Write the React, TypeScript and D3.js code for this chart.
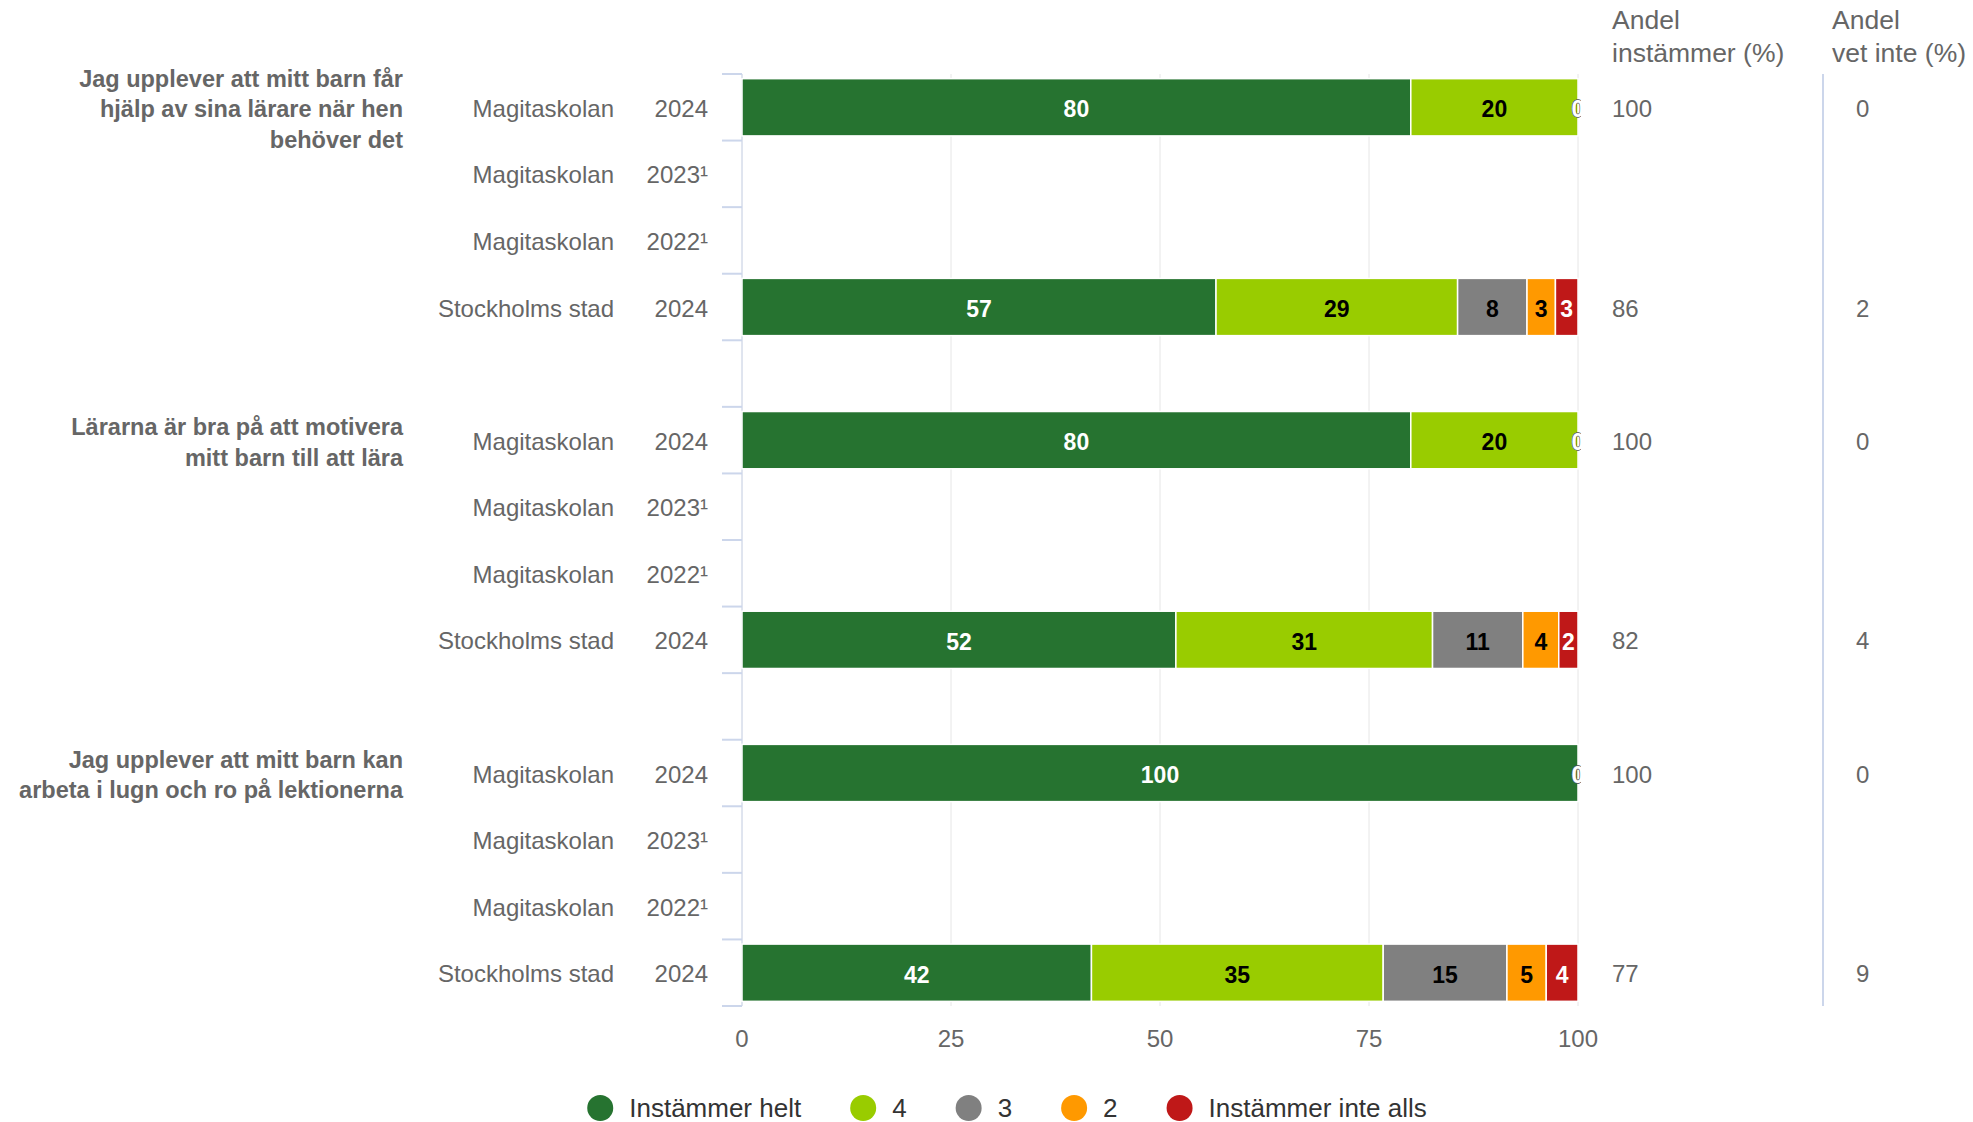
import React, { useRef, useEffect } from "react"
import * as d3 from "d3"

// Question titles (one line per entry)
const questions: string[][] = [
  ["Jag upplever att mitt barn får", "hjälp av sina lärare när hen", "behöver det"],
  ["Lärarna är bra på att motivera", "mitt barn till att lära"],
  ["Jag upplever att mitt barn kan", "arbeta i lugn och ro på lektionerna"],
]
const units = ["Magitaskolan", "Magitaskolan", "Magitaskolan", "Stockholms stad"]
const years = ["2024", "2023¹", "2022¹", "2024"]

const seriesNames = ["Instämmer helt", "4", "3", "2", "Instämmer inte alls"]
const seriesColors = ["#267330", "#99cc00", "#808080", "#ff9900", "#bf1818"]
const labelColors = ["#ffffff", "#000000", "#000000", "#000000", "#ffffff"]

// one value per row (question x unit/year), null = no data
const instammerHelt = [80, null, null, 56.7, 80, null, null, 51.9, 100, null, null, 41.8]
const value4 = [20, null, null, 28.9, 20, null, null, 30.7, 0, null, null, 34.9]
const value3 = [0, null, null, 8.3, 0, null, null, 10.8, 0, null, null, 14.8]
const value2 = [0, null, null, 3.4, 0, null, null, 4.3, 0, null, null, 4.7]
const instammerInteAlls = [0, null, null, 2.7, 0, null, null, 2.3, 0, null, null, 3.8]

const andelInstammer = [100, null, null, 86, 100, null, null, 82, 100, null, null, 77]
const andelVetInte = [0, null, null, 2, 0, null, null, 4, 0, null, null, 9]

const xTicks = [0, 25, 50, 75, 100]

const FONT = "'Liberation Sans', Arial, Helvetica, sans-serif"
const TEXT = "#666666"
const AXIS = "#ccd6eb"

const App: React.FC = () => {
  const svgRef = useRef<SVGSVGElement | null>(null)
  const width = 1973
  const height = 1122

  useEffect(() => {
    const svg = d3.select(svgRef.current)
    svg.selectAll("*").remove()

    const series = [instammerHelt, value4, value3, value2, instammerInteAlls]

    // slots: 4 rows per question, an empty slot between questions
    const slots: string[] = []
    questions.forEach((_q, qi) => {
      units.forEach((_u, ri) => slots.push(`r${qi * 4 + ri}`))
      if (qi < questions.length - 1) slots.push(`gap${qi}`)
    })

    const x = d3.scaleLinear().domain([0, 100]).range([742, 1578])
    const y = d3.scaleBand<string>().domain(slots).range([74, 1006]).padding(0)
    const step = y.step()
    const barH = step * 0.86
    const top = y.range()[0]
    const bottom = y.range()[1]
    const cy = (i: number) => (y(`r${i}`) as number) + step / 2

    svg.append("defs").append("clipPath").attr("id", "plotclip")
      .append("rect")
      .attr("x", x(0)).attr("y", top)
      .attr("width", x(100) - x(0) + 3).attr("height", bottom - top)

    // grid
    svg.append("g").selectAll("line").data(xTicks).join("line")
      .attr("x1", d => x(d)).attr("x2", d => x(d))
      .attr("y1", top).attr("y2", bottom)
      .attr("stroke", "#e6e6e6").attr("stroke-width", 1)

    // left axis line + category ticks
    const ax = svg.append("g")
    ax.append("line")
      .attr("x1", x(0)).attr("x2", x(0)).attr("y1", top).attr("y2", bottom)
      .attr("stroke", AXIS)
    const bounds = slots.map(s => y(s) as number).concat([bottom])
    ax.selectAll("line.tick").data(bounds).join("line").attr("class", "tick")
      .attr("x1", x(0) - 20).attr("x2", x(0)).attr("y1", d => d).attr("y2", d => d)
      .attr("stroke", AXIS).attr("stroke-width", 2)

    // x axis labels
    svg.append("g").selectAll("text").data(xTicks).join("text")
      .attr("x", d => x(d)).attr("y", 1038)
      .attr("text-anchor", "middle").attr("dominant-baseline", "central")
      .attr("font-family", FONT).attr("font-size", 24).attr("fill", TEXT)
      .text(d => d)

    // bars
    const rows = d3.range(instammerHelt.length)
    const bars = svg.append("g")
    const labels = svg.append("g").attr("clip-path", "url(#plotclip)")
    rows.forEach(i => {
      if (instammerHelt[i] == null) return
      const vals = series.map(s => s[i] as number)
      const total = d3.sum(vals)
      let acc = 0
      vals.forEach((v, si) => {
        const x0 = (acc / total) * 100
        acc += v
        const x1 = (acc / total) * 100
        if (v > 0) {
          bars.append("rect")
            .attr("x", x(x0)).attr("y", cy(i) - barH / 2)
            .attr("width", x(x1) - x(x0)).attr("height", barH)
            .attr("fill", seriesColors[si])
            .attr("stroke", "#ffffff").attr("stroke-width", 1.5)
        }
        const zero = v === 0
        labels.append("text")
          .attr("x", x((x0 + x1) / 2)).attr("y", cy(i) + 2)
          .attr("text-anchor", "middle").attr("dominant-baseline", "central")
          .attr("font-family", FONT).attr("font-size", 23).attr("font-weight", "bold")
          .attr("fill", zero ? "#ffffff" : labelColors[si])
          .attr("stroke", zero ? "#555555" : "none").attr("stroke-width", zero ? 0.8 : 0)
          .attr("paint-order", "stroke")
          .text(Math.round(v))
      })
    })

    // category labels
    const cat = svg.append("g").attr("font-family", FONT).attr("font-size", 24).attr("fill", TEXT)
    rows.forEach(i => {
      const ri = i % 4
      cat.append("text").attr("x", 614).attr("y", cy(i) + 1)
        .attr("text-anchor", "end").attr("dominant-baseline", "central").text(units[ri])
      cat.append("text").attr("x", 708).attr("y", cy(i) + 1)
        .attr("text-anchor", "end").attr("dominant-baseline", "central").text(years[ri])
    })

    // question titles
    const qt = svg.append("g").attr("font-family", FONT).attr("font-size", 23.5)
      .attr("font-weight", "bold").attr("fill", TEXT)
    questions.forEach((lines, qi) => {
      const c = cy(qi * 4) + 2.2
      const lh = 30.5
      lines.forEach((line, li) => {
        qt.append("text").attr("x", 403)
          .attr("y", c + (li - (lines.length - 1) / 2) * lh)
          .attr("text-anchor", "end").attr("dominant-baseline", "central").text(line)
      })
    })

    // right columns
    const col = svg.append("g").attr("font-family", FONT).attr("fill", TEXT)
    const headers = [
      { x: 1612, lines: ["Andel", "instämmer (%)"], vals: andelInstammer, vx: 1612 },
      { x: 1832, lines: ["Andel", "vet inte (%)"], vals: andelVetInte, vx: 1856 },
    ]
    headers.forEach(h => {
      h.lines.forEach((line, li) => {
        col.append("text").attr("x", h.x).attr("y", 20 + li * 33)
          .attr("dominant-baseline", "central").attr("font-size", 26.5).text(line)
      })
      rows.forEach(i => {
        if (h.vals[i] == null) return
        col.append("text").attr("x", h.vx).attr("y", cy(i) + 1)
          .attr("dominant-baseline", "central").attr("font-size", 24).text(h.vals[i] as number)
      })
    })
    svg.append("line")
      .attr("x1", 1823).attr("x2", 1823).attr("y1", top).attr("y2", bottom)
      .attr("stroke", AXIS).attr("stroke-width", 2)

    // legend
    const lg = svg.append("g").attr("font-family", FONT).attr("font-size", 26).attr("fill", "#333333")
    const items = seriesNames.map((name, si) => {
      const g = lg.append("g")
      g.append("circle").attr("r", 13).attr("cy", 1108).attr("fill", seriesColors[si])
      const t = g.append("text").attr("x", 29).attr("y", 1108)
        .attr("dominant-baseline", "central").text(name)
      const w = (t.node() as SVGTextElement).getComputedTextLength()
      return { g, w: 29 + w }
    })
    const gapL = 49
    const totalW = d3.sum(items, d => d.w + 13) + gapL * (items.length - 1)
    let cx = 1007 - totalW / 2 + 13
    items.forEach(it => {
      it.g.attr("transform", `translate(${cx},0)`)
      cx += it.w + gapL + 13
    })
  }, [])

  return (
    <svg ref={svgRef} width={width} height={height}
      style={{ position: "absolute", left: 0, top: 0, background: "#ffffff" }} />
  )
}

export default App
